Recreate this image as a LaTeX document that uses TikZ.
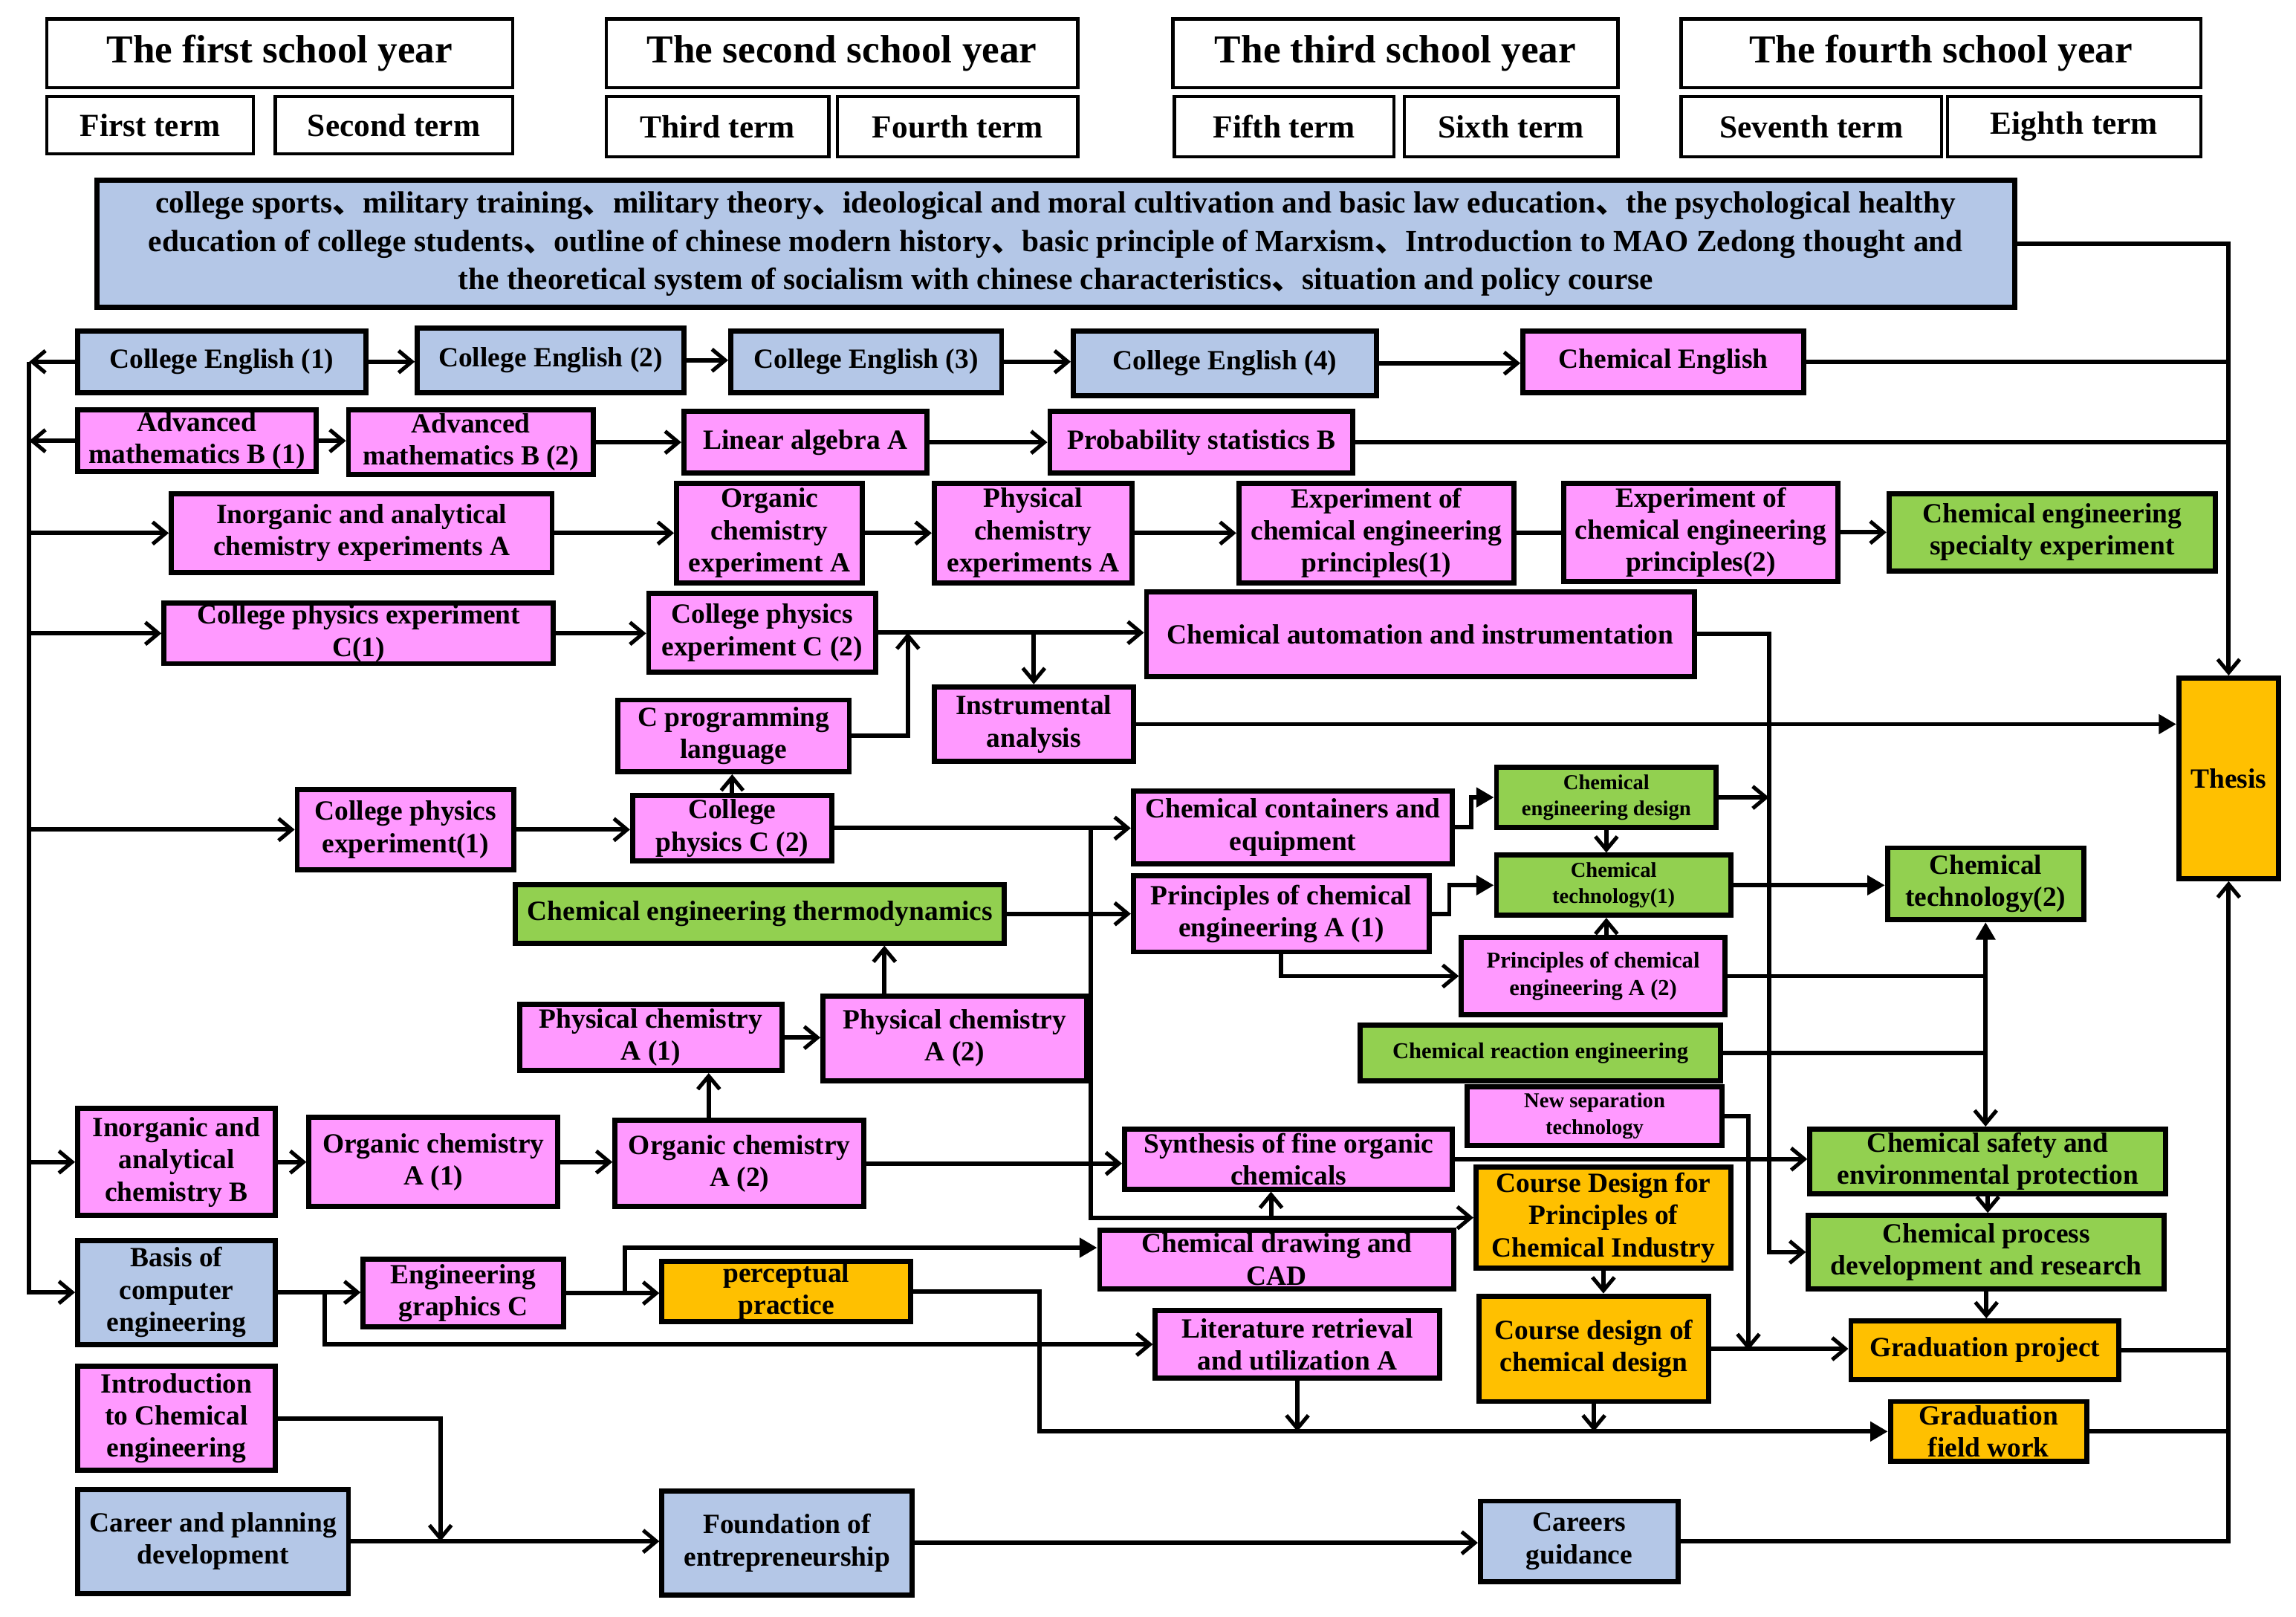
\documentclass[tikz,border=0pt]{standalone}
\usepackage{fontspec}
\setmainfont{Liberation Serif}
\newfontfamily\cjk{Noto Sans CJK SC}
\usetikzlibrary{arrows.meta,calc}
\definecolor{cblue}{HTML}{B4C7E7}
\definecolor{cpink}{HTML}{FF99FF}
\definecolor{cgreen}{HTML}{92D050}
\definecolor{corange}{HTML}{FFC000}
\newcommand\dun{{\cjk 、}}
\newcommand\bx[7]{\node[#2, minimum width={#5-#3}, minimum height={#6-#4}] (#1) at ({(#3+#5)/2},{(#4+#6)/2}) {#7};}
\tikzset{
 base/.style={draw=black, line width=3.5pt, align=center, inner sep=1pt, font=\bfseries\fontsize{19}{22}\selectfont},
 bl/.style={base, fill=cblue}, pk/.style={base, fill=cpink}, gr/.style={base, fill=cgreen}, og/.style={base, fill=corange},
 hd/.style={draw, line width=2.2pt, fill=white, inner sep=1pt, font=\bfseries\fontsize{27}{30}\selectfont},
 tm/.style={hd, font=\bfseries\fontsize{22}{26}\selectfont},
 sm/.style={font=\bfseries\fontsize{15.5}{19}\selectfont},
 xs/.style={font=\bfseries\fontsize{14.5}{18}\selectfont},
 ln/.style={line width=3pt},
 arr/.style={ln, -{Straight Barb[length=9pt,width=15pt,line width=2.6pt]}},
 tri/.style={ln, -{Triangle[length=12pt,width=13pt]}},
 dbl/.style={ln, {Triangle[length=12pt,width=13pt]}-{Straight Barb[length=9pt,width=15pt,line width=2.6pt]}},
}
\begin{document}
\begin{tikzpicture}[x=1pt,y=-1pt]
\useasboundingbox (0,0) rectangle (1568,1104);
% header
\bx{Y1}{hd}{32}{13}{350}{60}{\raisebox{-3pt}{The first school year}}
\bx{T1}{tm}{32}{66}{173}{105}{First term}
\bx{T2}{tm}{188}{66}{350}{105}{Second term}
\bx{Y2}{hd}{414}{13}{736}{60}{\raisebox{-3pt}{The second school year}}
\bx{T3}{tm}{414}{66}{566}{107}{Third term}
\bx{T4}{tm}{572}{66}{736}{107}{Fourth term}
\bx{Y3}{hd}{801}{13}{1105}{60}{\raisebox{-3pt}{The third school year}}
\bx{T5}{tm}{802}{66}{952}{107}{Fifth term}
\bx{T6}{tm}{959}{66}{1105}{107}{Sixth term}
\bx{Y4}{hd}{1148}{13}{1503}{60}{\raisebox{-3pt}{The fourth school year}}
\bx{T7}{tm}{1148}{66}{1326}{107}{Seventh term}
\bx{T8}{tm}{1330}{66}{1503}{107}{Eighth term}
% general education
\bx{gen}{bl,font=\bfseries\fontsize{21}{26}\selectfont}{66}{123}{1376}{210}{college sports\dun military training\dun military theory\dun ideological and moral cultivation and basic law education\dun the psychological healthy\\ education of college students\dun outline of chinese modern history\dun basic principle of Marxism\dun Introduction to MAO Zedong thought and\\ the theoretical system of socialism with chinese characteristics\dun situation and policy course}
% row 1
\bx{CE1}{bl}{53}{226}{250}{268}{College English (1)}
\bx{CE2}{bl}{285}{224}{467}{268}{College English (2)}
\bx{CE3}{bl}{499}{226}{684}{268}{College English (3)}
\bx{CE4}{bl}{733}{226}{940}{270}{College English (4)}
\bx{ChemEng}{pk}{1040}{226}{1232}{268}{Chemical English}
% row 2
\bx{AM1}{pk}{53}{280}{216}{322}{Advanced\\mathematics B (1)}
\bx{AM2}{pk}{238}{280}{405}{324}{Advanced\\mathematics B (2)}
\bx{LinAlg}{pk}{467}{281}{633}{323}{Linear algebra A}
\bx{Prob}{pk}{717}{281}{924}{323}{Probability statistics B}
% row 3
\bx{InorgExpA}{pk}{117}{337}{377}{391}{Inorganic and analytical\\chemistry experiments A}
\bx{OrgExpA}{pk}{462}{330}{589}{398}{Organic\\chemistry\\experiment A}
\bx{PhysExpA}{pk}{638}{330}{773}{398}{Physical\\chemistry\\experiments A}
\bx{ECEP1}{pk}{846}{330}{1034}{398}{Experiment of\\chemical engineering\\principles(1)}
\bx{ECEP2}{pk}{1068}{330}{1255}{397}{Experiment of\\chemical engineering\\principles(2)}
\bx{CESE}{gr}{1290}{337}{1513}{390}{Chemical engineering\\specialty experiment}
% row 4
\bx{CPEC1}{pk}{112}{412}{378}{453}{College physics experiment\\C(1)}
\bx{CPEC2}{pk}{443}{405}{598}{459}{College physics\\experiment C (2)}
\bx{ChemAuto}{pk}{783}{404}{1157}{462}{Chemical automation and instrumentation}
\bx{Instr}{pk}{638}{469}{774}{520}{Instrumental\\analysis}
\bx{CProg}{pk}{422}{478}{580}{527}{C programming\\language}
% row 5
\bx{CPE1}{pk}{203}{539}{351}{594}{College physics\\experiment(1)}
\bx{CPC2}{pk}{432}{543}{568}{588}{College\\physics C (2)}
\bx{ChemCont}{pk}{774}{540}{992}{590}{Chemical containers and\\equipment}
\bx{CED}{gr,xs}{1022}{524}{1172}{565}{Chemical\\engineering design}
\bx{CT1}{gr,xs}{1022}{584}{1182}{625}{Chemical\\technology(1)}
\bx{CT2}{gr}{1289}{579}{1423}{628}{Chemical\\technology(2)}
% row 6
\bx{Thermo}{gr}{352}{604}{686}{644}{Chemical engineering thermodynamics}
\bx{PCEA1}{pk}{774}{598}{976}{650}{Principles of chemical\\engineering A (1)}
\bx{PCEA2}{pk,sm}{998}{640}{1178}{693}{Principles of chemical\\engineering A (2)}
\bx{React}{gr,sm}{929}{700}{1175}{738}{Chemical reaction engineering}
\bx{NewSep}{pk,xs}{1002}{742}{1176}{782}{New separation\\technology}
% row 7
\bx{PC1}{pk}{355}{686}{534}{731}{Physical chemistry\\A (1)}
\bx{PC2}{pk}{562}{680}{742}{738}{Physical chemistry\\A (2)}
\bx{InorgB}{pk}{53}{757}{188}{830}{Inorganic and\\analytical\\chemistry B}
\bx{OC1}{pk}{211}{763}{381}{824}{Organic chemistry\\A (1)}
\bx{OC2}{pk}{420}{765}{590}{824}{Organic chemistry\\A (2)}
\bx{SynFine}{pk}{768}{771}{992}{812}{Synthesis of fine organic\\chemicals}
\bx{Safety}{gr}{1236}{771}{1479}{815}{Chemical safety and\\environmental protection}
\bx{CDPCI}{og}{1008}{797}{1182}{866}{Course Design for\\Principles of\\Chemical Industry}
\bx{CPDR}{gr}{1235}{830}{1478}{880}{Chemical process\\development and research}
\bx{CDCD}{og}{1010}{885}{1167}{957}{Course design of\\chemical design}
\bx{GradProj}{og}{1264}{902}{1447}{942}{Graduation project}
\bx{GradField}{og}{1291}{957}{1425}{998}{Graduation\\field work}
% row 8
\bx{Basis}{bl}{53}{847}{188}{918}{Basis of\\computer\\engineering}
\bx{EngGraph}{pk}{248}{860}{385}{906}{Engineering\\graphics C}
\bx{Percep}{og}{452}{862}{622}{902}{perceptual\\practice}
\bx{ChemDraw}{pk}{751}{840}{993}{880}{Chemical drawing and\\CAD}
\bx{LitRet}{pk}{789}{895}{983}{941}{Literature retrieval\\and utilization A}
% row 9
\bx{Intro}{pk}{53}{933}{188}{1004}{Introduction\\to Chemical\\engineering}
\bx{Career}{bl}{53}{1017}{238}{1088}{Career and planning\\development}
\bx{Found}{bl}{452}{1018}{623}{1089}{Foundation of\\entrepreneurship}
\bx{Careers}{bl}{1011}{1025}{1146}{1080}{Careers\\guidance}
\bx{Thesis}{og}{1488}{463}{1556}{600}{Thesis}
% helper coordinates
\coordinate (L) at (20,0);
\coordinate (V) at (1208,0);
\coordinate (NS) at (1194,0);
\coordinate (M) at (1356,0);
% left distribution line
\draw[arr] (CE1.west) -- (CE1.west -| L);
\draw[arr] (AM1.west) -- (AM1.west -| L);
\draw[arr] (CE1.west -| L) |- (Basis.west);
\foreach \n in {InorgExpA,CPEC1,CPE1,InorgB} \draw[arr] (\n.west -| L) -- (\n.west);
% right collection to thesis
\draw[arr] (gen.east) -| (Thesis.north);
\draw[ln] (ChemEng.east) -- (ChemEng.east -| Thesis.north);
\draw[ln] (Prob.east) -- (Prob.east -| Thesis.north);
\draw[arr] (Careers.east) -| (Thesis.south);
\draw[ln] (GradProj.east) -- (GradProj.east -| Thesis.south);
\draw[ln] (GradField.east) -- (GradField.east -| Thesis.south);
\draw[tri] (Instr.east) -- (Instr.east -| Thesis.west);
% row 1
\draw[arr] (CE1.east) -- (CE1.east -| CE2.west);
\draw[arr] (CE2.east) -- (CE2.east -| CE3.west);
\draw[arr] (CE3.east) -- (CE3.east -| CE4.west);
\draw[arr] (CE4.east) -- (CE4.east -| ChemEng.west);
% row 2
\draw[arr] (AM1.east) -- (AM1.east -| AM2.west);
\draw[arr] (AM2.east) -- (AM2.east -| LinAlg.west);
\draw[arr] (LinAlg.east) -- (LinAlg.east -| Prob.west);
% row 3
\draw[arr] (InorgExpA.east) -- (InorgExpA.east -| OrgExpA.west);
\draw[arr] (OrgExpA.east) -- (OrgExpA.east -| PhysExpA.west);
\draw[arr] (PhysExpA.east) -- (PhysExpA.east -| ECEP1.west);
\draw[ln] (ECEP1.east) -- (ECEP1.east -| ECEP2.west);
\draw[arr] (ECEP2.east) -- (ECEP2.east -| CESE.west);
% row 4
\draw[arr] (CPEC1.east) -- (CPEC1.east -| CPEC2.west);
\draw[arr] (CPEC2.east) -- (CPEC2.east -| ChemAuto.west);
\coordinate (J1) at (620,432);
\draw[arr] (CProg.east) -| (J1);
\draw[arr] (Instr.north |- J1) -- (Instr.north);
\draw[arr] (ChemAuto.east) -| (V |- CPDR.west) -- (CPDR.west);
\draw[arr] (CED.east) -- (CED.east -| V);
% row 5
\draw[arr] (CPE1.east) -- (CPE1.east -| CPC2.west);
\draw[arr] (CPC2.north) -- (CPC2.north |- CProg.south);
\draw[arr] (CPC2.east) -- (CPC2.east -| ChemCont.west);
\coordinate (K) at (745,566);
\draw[arr] (K) |- (CDPCI.west);
\draw[arr] ([xshift=-12pt]SynFine.south |- CDPCI.west) -- ([xshift=-12pt]SynFine.south);
\draw[tri] (ChemCont.east) -- ++(11,0) |- (CED.west);
\draw[arr] (CED.south) -- (CED.south |- CT1.north);
\draw[tri] (CT1.east) -- (CT1.east -| CT2.west);
% row 6
\draw[arr] (Thermo.east) -- (Thermo.east -| PCEA1.west);
\draw[tri] (PCEA1.east) -- ++(12,0) |- (CT1.west);
\draw[arr] (PCEA1.south) |- (PCEA2.west);
\draw[arr] (CED.south |- PCEA2.north) -- (CED.south |- CT1.south);
\draw[ln] (PCEA2.east) -- (PCEA2.east -| M);
\draw[ln] (React.east) -- (React.east -| M);
\draw[dbl] (CT2.south) -- (CT2.south |- Safety.north);
\draw[arr] (NewSep.east) -| (NS |- GradProj.west);
% row 7
\draw[arr] (InorgB.east) -- (InorgB.east -| OC1.west);
\draw[arr] (OC1.east) -- (OC1.east -| OC2.west);
\draw[arr] ([xshift=-21pt]OC2.north) -- ([xshift=-21pt]OC2.north |- PC1.south);
\draw[arr] (PC1.east) -- (PC1.east -| PC2.west);
\draw[arr] ([xshift=-48pt]PC2.north) -- ([xshift=-48pt]PC2.north |- Thermo.south);
\draw[arr] (OC2.east) -- (OC2.east -| SynFine.west);
\draw[arr] (SynFine.east) -- (SynFine.east -| Safety.west);
\draw[arr] (Safety.south) -- (Safety.south |- CPDR.north);
\draw[arr] (CPDR.south) -- (CPDR.south |- GradProj.north);
\draw[arr] (CDPCI.south) -- (CDPCI.south |- CDCD.north);
\draw[arr] (CDCD.east) -- (CDCD.east -| GradProj.west);
\draw[arr] (CDCD.south) -- (CDCD.south |- GradField.west);
% row 8
\draw[arr] (Basis.east) -- (Basis.east -| EngGraph.west);
\draw[arr] ($(Basis.east)+(32,0)$) |- (LitRet.west);
\draw[arr] (EngGraph.east) -- (EngGraph.east -| Percep.west);
\draw[tri] ($(EngGraph.east)+(40,0)$) |- ([yshift=8pt]ChemDraw.west);
\draw[tri] (Percep.east) -- ++(86,0) |- (GradField.west);
\draw[arr] (LitRet.south) -- (LitRet.south |- GradField.west);
% row 9
\draw[arr] (Intro.east) -| ([xshift=61pt]Career.east);
\draw[arr] (Career.east) -- (Career.east -| Found.west);
\draw[arr] (Found.east) -- (Found.east -| Careers.west);
\end{tikzpicture}
\end{document}
